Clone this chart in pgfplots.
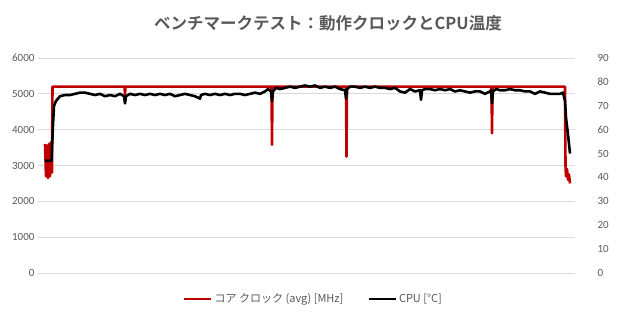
\documentclass[border=0pt]{standalone}
\usepackage{pgfplots}
\pgfplotsset{compat=1.18}
\usepackage{fontspec}
\setmainfont{Carlito}
\newfontfamily\cjk{Noto Sans CJK JP}[BoldFont={Noto Sans CJK JP Bold}]
\definecolor{txt}{HTML}{595959}
\definecolor{gridc}{HTML}{D9D9D9}
\definecolor{clk}{HTML}{C00000}
\begin{document}
\begin{tikzpicture}[x=1pt,y=1pt]
\path[use as bounding box] (0,0) rectangle (620,320);
\node[font=\cjk\bfseries\fontsize{16.5}{18}\selectfont, text=txt] at (328,297) {ベンチマークテスト：動作クロックとCPU温度};
\begin{axis}[
  at={(38pt,47pt)}, anchor=south west,
  scale only axis, width=537pt, height=215pt,
  xmin=38, xmax=575, ymin=0, ymax=6000,
  ytick={0,1000,...,6000},
  xtick=\empty,
  axis line style={draw=none},
  major tick length=0pt,
  ymajorgrids, grid style={gridc, line width=0.8pt},
  yticklabel style={text=txt, font=\fontsize{11}{12}\selectfont},
  /pgf/number format/assume math mode=true,
  /pgf/number format/1000 sep={},
  clip=false,
]
\addplot[clk, line width=2.6pt, line join=round] coordinates {
(45,3600)(46,2700)(47,3550)(48,2650)(49,3600)(50,2700)(51,3650)(52,2800)(52.5,5200)
(124.5,5200)(125,4980)(125.5,5200)(271.5,5200)(272,3580)(272.5,5200)
(346,5200)(346.5,3250)(347,5200)(491.5,5200)(492,3900)(492.5,5200)
(565,5200)(565.5,3000)(566,2700)(567,2900)(568,2600)(569,2750)(570,2500)
};
\end{axis}
\begin{axis}[
  at={(38pt,47pt)}, anchor=south west,
  scale only axis, width=537pt, height=215pt,
  xmin=38, xmax=575, ymin=0, ymax=90,
  ytick={0,10,...,90},
  xtick=\empty,
  axis y line*=right, axis x line=none,
  axis line style={draw=none},
  major tick length=0pt,
  yticklabel style={text=txt, font=\fontsize{11}{12}\selectfont, xshift=19pt},
  /pgf/number format/assume math mode=true,
  clip=false,
  legend columns=2,
  legend style={at={(0.513,-0.121)}, anchor=center, draw=none, fill=none,
    font=\cjk\fontsize{11}{13}\selectfont, text=txt,
    /tikz/every even column/.append style={column sep=22pt}},
  legend image code/.code={\draw[#1] (0pt,0pt) -- (27pt,0pt);},
]
\addlegendimage{clk, line width=2.6pt}
\addlegendentry{コア クロック (avg) [MHz]}
\addplot[black, line width=2.6pt, line join=round] coordinates {
(45,47)(51.5,47)(52,52)(53,62)(54,70)(56,72)(58,73)(60,74)(65,74.5)(70,74.5)(75,75)(80,75.5)(85,75.5)(90,75)(95,74.5)(100,75)(105,74)(110,74.5)(115,74)(120,75)(124,74)(125,71)(126,74)(130,75)(135,74.5)(140,75)(145,74.5)(150,75)(155,74.5)(160,75)(165,74.5)(170,75)(175,74)(180,74.5)(185,75)(190,74.5)(195,74)(200,73)(201,74.5)(205,75)(210,74.5)(215,75)(220,74.5)(225,75)(230,74.5)(235,75)(240,75)(245,74.5)(250,75)(255,75.5)(260,75)(265,76)(268,77)(271,76)(272,72)(273,76)(276,77.5)(280,77)(285,77.5)(290,78)(295,77.5)(300,78)(305,78.5)(310,78)(315,78.5)(320,77.5)(325,78)(330,77.5)(335,78)(340,77)(345,76.5)(346,73)(347,77)(350,78)(355,78)(360,77.5)(365,78)(370,77.5)(375,78)(380,77.5)(385,77.5)(390,77)(395,77.5)(400,76)(405,75.5)(410,77)(415,76)(420,76.5)(421,72.5)(422,76.5)(425,77)(430,77)(435,76.5)(440,77)(445,76.5)(450,77)(455,76)(460,76.5)(465,76)(470,75.5)(475,76)(480,76)(485,75)(490,76)(491,76.5)(492,71)(493,76)(496,77)(500,76.5)(505,76.5)(510,77)(515,76.5)(520,76.5)(525,76)(530,76)(535,75)(540,76)(545,75.5)(550,75)(555,75)(560,75)(563,75.5)(565,72)(566,65)(568,58)(570,50)
};
\addlegendentry{CPU [°C]}
\end{axis}
\end{tikzpicture}
\end{document}
